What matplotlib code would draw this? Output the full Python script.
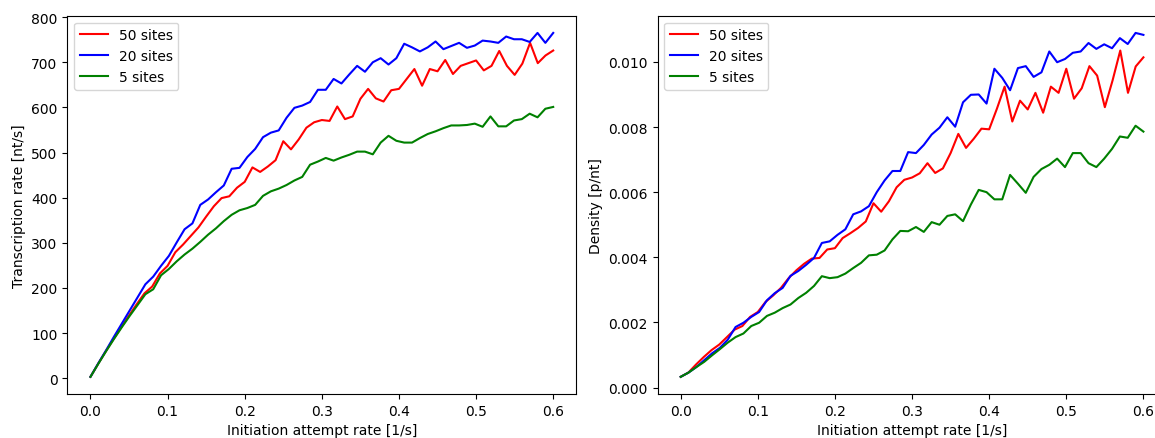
import numpy as np
from matplotlib import pyplot as plt

# initiation attempt rates (red runs were sampled on a 0.01 grid, the others on 60 points)
rate_60 = np.linspace(0, 0.6, 60)
rate_61 = np.linspace(0, 0.6, 61)

# transcription rate [nt/s]
tx_50 = [3, 32, 60, 87, 113, 139, 164, 188, 203, 232,
         249, 279, 296, 315, 334, 358, 381, 399, 403, 422,
         435, 467, 457, 469, 483, 525, 507, 529, 555, 567,
         572, 570, 602, 574, 580, 619, 641, 620, 613, 638,
         641, 663, 685, 648, 685, 680, 705, 674, 692, 698,
         704, 682, 692, 725, 692, 672, 697, 743, 698, 715, 726]
tx_20 = [3, 33, 62, 92, 121, 150, 179, 208, 225, 249,
         271, 301, 330, 343, 384, 396, 412, 427, 464, 466,
         490, 508, 534, 544, 549, 577, 599, 604, 612, 639,
         639, 663, 653, 673, 692, 679, 700, 709, 695, 709,
         741, 733, 724, 733, 746, 729, 736, 743, 732, 737,
         748, 746, 743, 757, 751, 751, 745, 765, 743, 765]
tx_5 = [3, 32, 60, 87, 113, 138, 162, 186, 197, 228,
        242, 259, 274, 287, 302, 318, 332, 348, 362, 372,
        377, 384, 404, 414, 420, 428, 438, 446, 473, 480,
        488, 482, 489, 495, 502, 502, 496, 522, 537, 526,
        522, 522, 532, 541, 547, 554, 560, 560, 561, 564,
        557, 580, 558, 558, 571, 574, 586, 578, 597, 601]

# polymerase density [p/nt]
dens_50 = [0.00033, 0.00046, 0.00071, 0.00094, 0.00115, 0.00132, 0.00155, 0.00178, 0.00189, 0.00217,
           0.00232, 0.00263, 0.00283, 0.00306, 0.00336, 0.00360, 0.00380, 0.00396, 0.00398, 0.00424,
           0.00428, 0.00459, 0.00474, 0.00490, 0.00510, 0.00566, 0.00540, 0.00572, 0.00615, 0.00638,
           0.00645, 0.00658, 0.00689, 0.00659, 0.00673, 0.00720, 0.00779, 0.00736, 0.00764, 0.00795,
           0.00793, 0.00856, 0.00924, 0.00817, 0.00881, 0.00854, 0.00905, 0.00844, 0.00924, 0.00905,
           0.00979, 0.00887, 0.00919, 0.00987, 0.00958, 0.00861, 0.00943, 0.01035, 0.00905, 0.00986, 0.01014]
dens_20 = [0.00033, 0.00046, 0.00063, 0.00084, 0.00105, 0.00122, 0.00147, 0.00186, 0.00199, 0.00217,
           0.00232, 0.00268, 0.00290, 0.00306, 0.00343, 0.00358, 0.00377, 0.00398, 0.00444, 0.00449,
           0.00469, 0.00486, 0.00532, 0.00541, 0.00557, 0.00600, 0.00636, 0.00665, 0.00665, 0.00723,
           0.00720, 0.00745, 0.00777, 0.00798, 0.00830, 0.00801, 0.00876, 0.00899, 0.00900, 0.00872,
           0.00979, 0.00951, 0.00913, 0.00981, 0.00987, 0.00954, 0.00968, 0.01032, 0.00999, 0.01009,
           0.01028, 0.01032, 0.01058, 0.01040, 0.01054, 0.01042, 0.01073, 0.01055, 0.01089, 0.01083]
dens_5 = [0.00033, 0.00046, 0.00063, 0.00079, 0.00099, 0.00118, 0.00138, 0.00155, 0.00166, 0.00189,
          0.00199, 0.00220, 0.00230, 0.00244, 0.00255, 0.00275, 0.00291, 0.00312, 0.00342, 0.00336,
          0.00339, 0.00350, 0.00367, 0.00383, 0.00406, 0.00408, 0.00421, 0.00455, 0.00481, 0.00480,
          0.00493, 0.00478, 0.00508, 0.00500, 0.00527, 0.00532, 0.00511, 0.00562, 0.00607, 0.00600,
          0.00578, 0.00578, 0.00653, 0.00626, 0.00598, 0.00647, 0.00671, 0.00684, 0.00703, 0.00677,
          0.00720, 0.00720, 0.00689, 0.00677, 0.00703, 0.00733, 0.00771, 0.00767, 0.00804, 0.00786]

fig = plt.figure(figsize=(11.55, 4.39), dpi=100)

# left: transcription rate
ax1 = fig.add_axes([0.0583, 0.1002, 0.4407, 0.8617])
ax1.plot(rate_61, tx_50, color="r", label="50 sites")
ax1.plot(rate_60, tx_20, color="b", label="20 sites")
ax1.plot(rate_60, tx_5, color="g", label="5 sites")
ax1.set_xlabel("Initiation attempt rate [1/s]")
ax1.set_ylabel("Transcription rate [nt/s]")
ax1.legend(loc="upper left")

# right: density (axes runs past the figure edge, as in the original)
ax2 = fig.add_axes([0.5693, 0.1002, 0.4407, 0.8617])
ax2.plot(rate_61, dens_50, color="r", label="50 sites")
ax2.plot(rate_60, dens_20, color="b", label="20 sites")
ax2.plot(rate_60, dens_5, color="g", label="5 sites")
ax2.set_xlabel("Initiation attempt rate [1/s]")
ax2.set_ylabel("Density [p/nt]")
ax2.legend(loc="upper left")

fig.savefig("out.png", dpi=100)
